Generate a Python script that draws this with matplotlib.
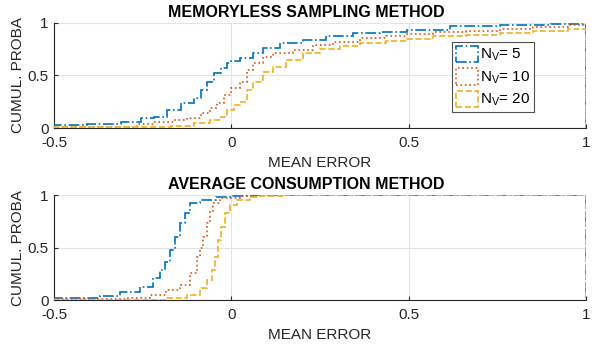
import matplotlib.pyplot as plt
from matplotlib.patches import Patch

# read-off CDF values; each value holds from its x to the next x, last edge = 1
x_top_n5 = [-0.5, -0.406, -0.312, -0.256, -0.218, -0.181, -0.143, -0.106, -0.087, -0.068, -0.049,
            -0.030, -0.012, 0.0, 0.024, 0.061, 0.09, 0.137, 0.202, 0.268, 0.343, 0.418, 0.494,
            0.615, 0.756, 0.9]
p_top_n5 = [0.029, 0.038, 0.06, 0.092, 0.108, 0.171, 0.235, 0.283, 0.362, 0.441, 0.521,
            0.568, 0.616, 0.635, 0.664, 0.711, 0.759, 0.806, 0.838, 0.876, 0.902, 0.917, 0.935,
            0.968, 0.984, 0.993]
x_top_n10 = [-0.5, -0.265, -0.218, -0.162, -0.124, -0.087, -0.059, -0.04, -0.021, -0.002, 0.024,
             0.043, 0.061, 0.09, 0.118, 0.174, 0.23, 0.287, 0.362, 0.437, 0.494, 0.568, 0.662,
             0.756, 0.85, 0.95]
p_top_n10 = [0.013, 0.038, 0.06, 0.076, 0.092, 0.14, 0.187, 0.235, 0.314, 0.38, 0.441,
             0.552, 0.616, 0.679, 0.711, 0.743, 0.79, 0.822, 0.854, 0.875, 0.895, 0.914, 0.927,
             0.946, 0.962, 0.984]
x_top_n20 = [-0.5, -0.171, -0.106, -0.059, -0.03, -0.012, 0.007, 0.024, 0.043, 0.061, 0.09,
             0.118, 0.155, 0.202, 0.249, 0.306, 0.362, 0.437, 0.494, 0.568, 0.662, 0.756, 0.85,
             0.95]
p_top_n20 = [0.006, 0.019, 0.044, 0.076, 0.108, 0.171, 0.219, 0.25, 0.362, 0.441, 0.536,
             0.584, 0.648, 0.711, 0.749, 0.781, 0.806, 0.83, 0.85, 0.873, 0.889, 0.905, 0.927,
             0.946]

x_bot_n5 = [-0.5, -0.37, -0.314, -0.258, -0.22, -0.201, -0.187, -0.173, -0.159, -0.145, -0.131,
            -0.117, -0.089, -0.042, 0.004, 0.06]
p_bot_n5 = [0.02, 0.035, 0.079, 0.127, 0.206, 0.286, 0.365, 0.476, 0.603, 0.73, 0.825,
            0.921, 0.952, 0.984, 0.993, 1.0]
x_bot_n10 = [-0.5, -0.3, -0.23, -0.183, -0.145, -0.117, -0.098, -0.089, -0.079, -0.07, -0.061,
             -0.051, -0.032, 0.024, 0.08]
p_bot_n10 = [0.01, 0.016, 0.048, 0.095, 0.143, 0.254, 0.413, 0.492, 0.603, 0.73, 0.841,
             0.921, 0.968, 0.99, 1.0]
x_bot_n20 = [-0.5, -0.183, -0.126, -0.089, -0.07, -0.056, -0.046, -0.037, -0.028, -0.018,
             -0.004, 0.015, 0.052, 0.08, 0.15]
p_bot_n20 = [0.006, 0.016, 0.048, 0.111, 0.19, 0.286, 0.413, 0.571, 0.698, 0.825,
             0.905, 0.952, 0.978, 0.99, 1.0]

labels = ['N$_V$= 5', 'N$_V$= 10', 'N$_V$= 20']
colors = ['#0072BD', '#D95319', '#EDB120']
styles = ['-.', ':', '--']

plt.rcParams['font.family'] = ['Liberation Sans', 'DejaVu Sans']
plt.rcParams['mathtext.fontset'] = 'custom'
plt.rcParams['mathtext.rm'] = 'Liberation Sans'
plt.rcParams['mathtext.it'] = 'Liberation Sans'

fig = plt.figure(figsize=(5.92, 3.47), dpi=100)
ax1 = fig.add_axes([0.0912, 0.631, 0.899, 0.303])
ax2 = fig.add_axes([0.0912, 0.135, 0.899, 0.303])

top = [(x_top_n5, p_top_n5), (x_top_n10, p_top_n10), (x_top_n20, p_top_n20)]
bot = [(x_bot_n5, p_bot_n5), (x_bot_n10, p_bot_n10), (x_bot_n20, p_bot_n20)]

for ax, curves, title in [(ax1, top, 'MEMORYLESS SAMPLING METHOD'),
                          (ax2, bot, 'AVERAGE CONSUMPTION METHOD')]:
    for (xs, ps), c, ls in zip(curves, colors, styles):
        ax.stairs(ps, xs + [1.0], baseline=0, color=c, linestyle=ls, linewidth=1.2, zorder=3)
    ax.set_xlim(-0.5, 1)
    ax.set_ylim(0, 1)
    ax.set_xticks([-0.5, 0, 0.5, 1])
    ax.set_xticklabels(['-0.5', '0', '0.5', '1'])
    ax.set_yticks([0, 0.5, 1])
    ax.set_yticklabels(['0', '0.5', '1'])
    ax.grid(True, color='#e3e3e3', linewidth=0.8)
    ax.set_axisbelow(True)
    ax.spines['top'].set_visible(False)
    ax.spines['right'].set_visible(False)
    for s in ['left', 'bottom']:
        ax.spines[s].set_color('#262626')
        ax.spines[s].set_linewidth(0.8)
    ax.tick_params(direction='in', length=3, colors='#262626', labelsize=11)
    ax.tick_params(axis='x', pad=6)
    ax.tick_params(axis='y', pad=4)
    ax.set_xlabel('MEAN ERROR', fontsize=11, color='#262626', labelpad=4)
    ax.set_ylabel('CUMUL. PROBA', fontsize=11, color='#262626', labelpad=2)
    ax.set_title(title, fontsize=11.5, fontweight='bold', pad=4, x=0.474)

handles = [Patch(facecolor='none', edgecolor=c, linestyle=ls, linewidth=1.2)
           for c, ls in zip(colors, styles)]
leg = ax1.legend(handles, labels, loc='upper left', bbox_to_anchor=(0.748, 0.82),
                 fontsize=11, frameon=True, fancybox=False, borderpad=0.25,
                 handlelength=1.45, handleheight=1.3, handletextpad=0.15, labelspacing=0.3,
                 borderaxespad=0)
leg.get_frame().set_edgecolor('#262626')
leg.get_frame().set_linewidth(0.8)

fig.savefig('out.png', dpi=100)
